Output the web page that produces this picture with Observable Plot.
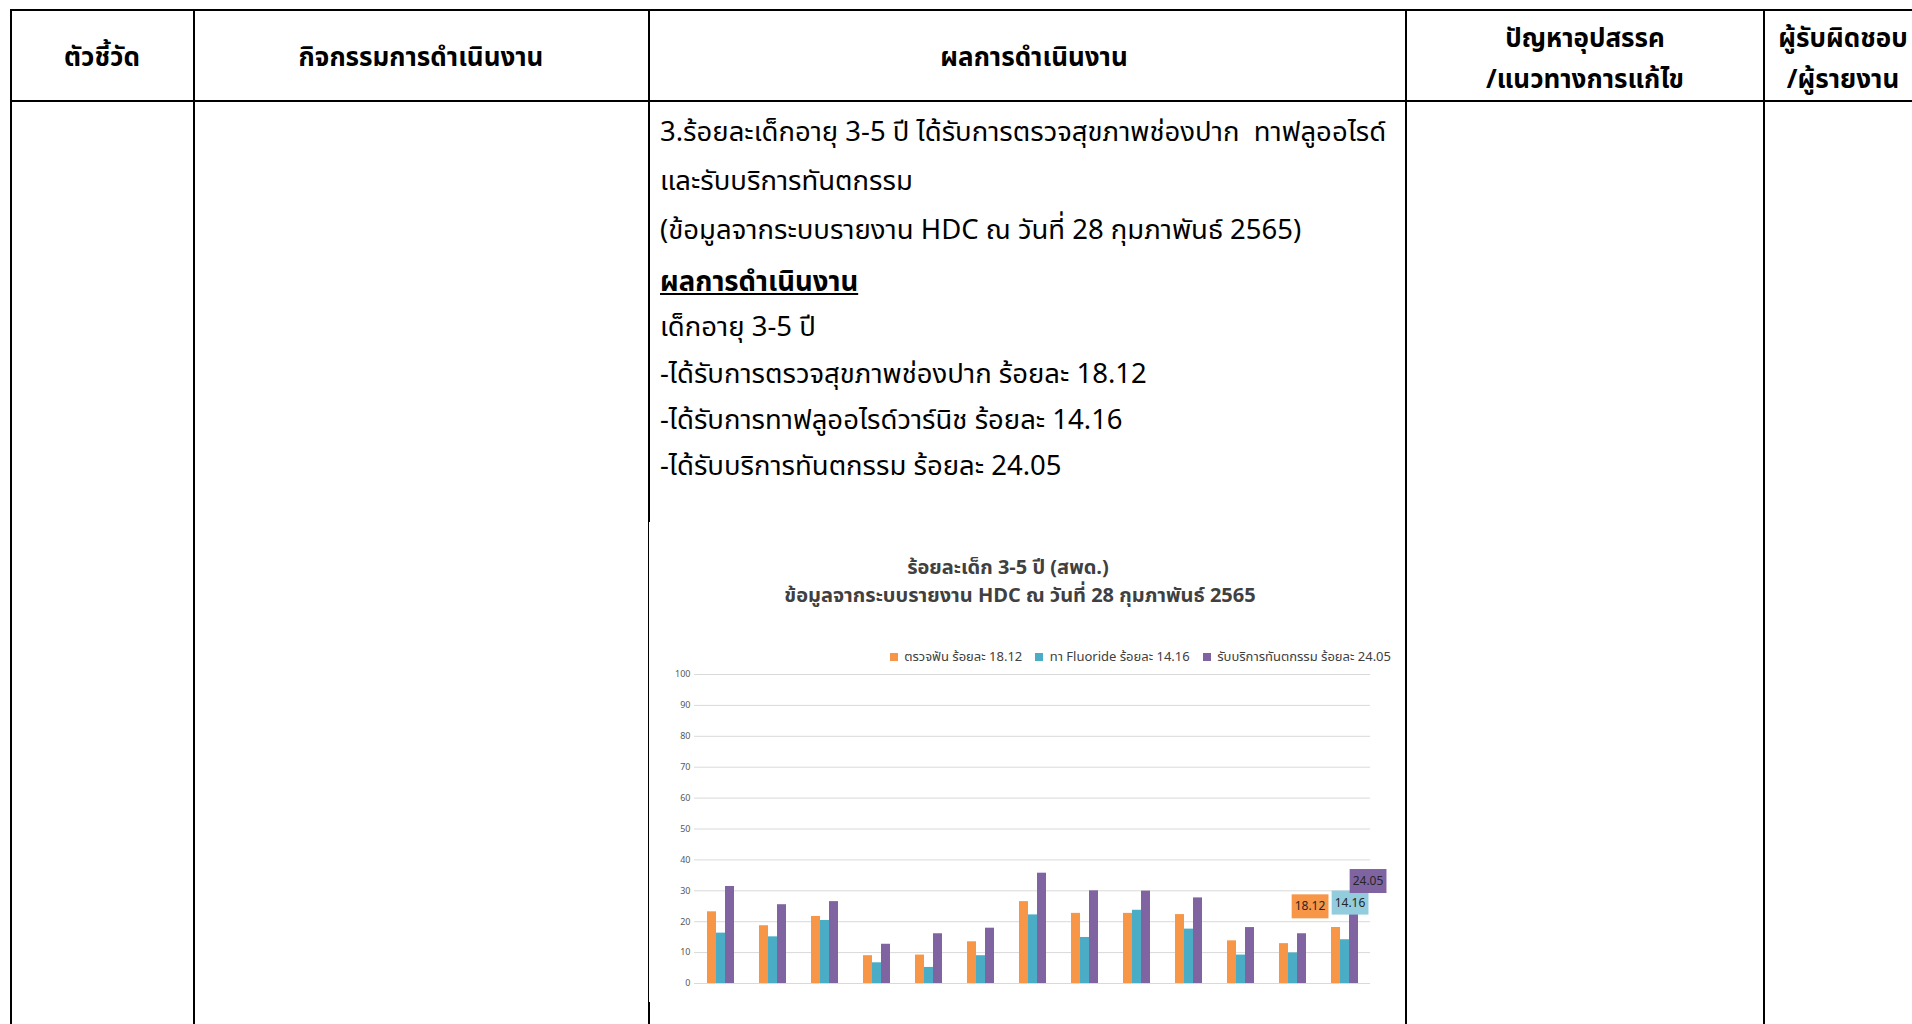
<!DOCTYPE html>
<html><head><meta charset="utf-8">
<script src="https://cdn.jsdelivr.net/npm/d3@7"></script>
<script src="https://cdn.jsdelivr.net/npm/@observablehq/plot@0.6"></script>
<style>
html,body{margin:0;padding:0;background:#fff;}
body{width:1912px;height:1024px;position:relative;overflow:hidden;font-family:"Noto Sans Thai","Leelawadee UI",Tahoma,"Noto Sans",sans-serif;color:#000;}
.ln{position:absolute;background:#000;}
.h{position:absolute;font-weight:bold;font-size:26px;text-align:center;white-space:nowrap;line-height:36px;transform:translateX(-50%);}
.t{position:absolute;left:660px;font-size:27.5px;white-space:pre;line-height:40px;}
.ct{position:absolute;font-weight:bold;font-size:20px;color:#404040;white-space:nowrap;transform:translateX(-50%);line-height:26px;}
#legend{position:absolute;right:508px;top:640px;}
#chart{position:absolute;left:648px;top:664px;}
</style></head><body>
<div id="page"></div>
<div id="legend"></div>
<div id="chart"></div>
<script>
// ---- data ----
const categories = ["กลุ่ม 1","กลุ่ม 2","กลุ่ม 3","กลุ่ม 4","กลุ่ม 5","กลุ่ม 6","กลุ่ม 7","กลุ่ม 8","กลุ่ม 9","กลุ่ม 10","กลุ่ม 11","กลุ่ม 12","รวม"];
const seriesNames = ["ตรวจฟัน ร้อยละ 18.12", "ทา Fluoride ร้อยละ 14.16", "รับบริการทันตกรรม ร้อยละ 24.05"];
const checkup  = [23.2, 18.7, 21.7, 9.0, 9.2, 13.5, 26.5, 22.7, 22.7, 22.3, 13.8, 12.9, 18.12];
const fluoride = [16.3, 15.1, 20.4, 6.7, 5.2, 9.0, 22.2, 14.9, 23.7, 17.6, 9.2, 9.9, 14.16];
const dental   = [31.4, 25.5, 26.5, 12.7, 16.1, 17.9, 35.7, 30.0, 29.9, 27.7, 18.1, 16.1, 24.05];
const yTicks = [0, 10, 20, 30, 40, 50, 60, 70, 80, 90, 100];
const chartTitle = ["ร้อยละเด็ก 3-5 ปี (สพด.)", "ข้อมูลจากระบบรายงาน HDC ณ วันที่ 28 กุมภาพันธ์ 2565"];
const headers = [["ตัวชี้วัด"], ["กิจกรรมการดำเนินงาน"], ["ผลการดำเนินงาน"], ["ปัญหาอุปสรรค", "/แนวทางการแก้ไข"], ["ผู้รับผิดชอบ", "/ผู้รายงาน"]];
const bodyLines = [
  "3.ร้อยละเด็กอายุ 3-5 ปี ได้รับการตรวจสุขภาพช่องปาก  ทาฟลูออไรด์",
  "และรับบริการทันตกรรม",
  "(ข้อมูลจากระบบรายงาน HDC ณ วันที่ 28 กุมภาพันธ์ 2565)",
  "ผลการดำเนินงาน",
  "เด็กอายุ 3-5 ปี",
  "-ได้รับการตรวจสุขภาพช่องปาก ร้อยละ 18.12",
  "-ได้รับการทาฟลูออไรด์วาร์นิช ร้อยละ 14.16",
  "-ได้รับบริการทันตกรรม ร้อยละ 24.05"
];

// ---- page layout (table) ----
const page = document.getElementById("page");
function add(cls, style, text) {
  const d = document.createElement("div");
  d.className = cls; d.style.cssText = style;
  if (text != null) d.textContent = text;
  page.appendChild(d); return d;
}
add("ln", "left:10px;top:9px;width:1902px;height:2px;");
add("ln", "left:10px;top:100px;width:1902px;height:2px;");
[10, 193, 1405, 1763].forEach(x => add("ln", `left:${x}px;top:9px;width:2px;height:1015px;`));
add("ln", "left:648px;top:9px;width:2px;height:513px;");
add("ln", "left:648px;top:522px;width:1px;height:480px;");
add("ln", "left:648px;top:1002px;width:2px;height:22px;");

const colCenters = [102, 421, 1034, 1585, 1843];
headers.forEach((lines, i) => {
  if (lines.length === 1) add("h", `left:${colCenters[i]}px;top:40px;`, lines[0]);
  else lines.forEach((s, k) => add("h", `left:${colCenters[i]}px;top:${21 + k * 41}px;`, s));
});
const lineCenters = [134, 183, 232, 284, 329, 376, 422, 468];
bodyLines.forEach((s, i) => {
  const d = add("t", `top:${lineCenters[i] - 21}px;`, s);
  if (i === 3) { d.style.fontWeight = "bold"; d.style.textDecoration = "underline"; }
});
add("ct", "left:1008px;top:555px;", chartTitle[0]);
add("ct", "left:1020px;top:583px;", chartTitle[1]);

// ---- chart ----
const colors = ["#F79646", "#4BACC6", "#8064A2"];
const boxColors = ["#F79646", "#93CDDD", "#8064A2"];
const seriesValues = [checkup, fluoride, dental];
const rows = categories.flatMap((c, i) => seriesNames.map((s, j) => ({cat: c, series: s, j, value: seriesValues[j][i]})));
const last = categories[categories.length - 1];
const labelRows = rows.filter(d => d.cat === last);
const labelOffsets = [[-26, -21], [5, -37], [14, -28]];

const legend = Plot.legend({
  color: {type: "ordinal", domain: seriesNames, range: colors},
  swatchSize: 8,
  style: {fontSize: "13px", color: "#404040", fontFamily: "inherit"}
});
document.getElementById("legend").appendChild(legend);

const chart = Plot.plot({
  width: 757, height: 339,
  marginLeft: 46, marginRight: 35, marginTop: 10, marginBottom: 20,
  style: {fontSize: "9px", color: "#595959", fontFamily: "\"Noto Sans Thai\", Tahoma, \"Noto Sans\", sans-serif", background: "transparent"},
  fx: {domain: categories, padding: 0, axis: null, label: null},
  x: {domain: seriesNames, paddingInner: 0, paddingOuter: 1.29, axis: null, label: null},
  y: {domain: [0, 100], ticks: yTicks, tickSize: 0, tickPadding: 4, label: null},
  color: {domain: seriesNames, range: colors},
  marks: [
    Plot.ruleY(yTicks, {stroke: "#d9d9d9", strokeWidth: 1}),
    Plot.barY(rows, {fx: "cat", x: "series", y: "value", fill: "series"}),
    ...labelOffsets.map((o, j) => Plot.text(labelRows.filter(d => d.j === j), {
      fx: "cat", x: "series", y: "value", text: d => d.value.toFixed(2),
      dx: o[0], dy: o[1], fontSize: 12, fill: "#262626"
    }))
  ]
});
document.getElementById("chart").appendChild(chart);

// background boxes behind the data labels
const labelColor = new Map(labelRows.map(d => [d.value.toFixed(2), boxColors[d.j]]));
chart.querySelectorAll('g[aria-label="text"] text').forEach(t => {
  const c = labelColor.get(t.textContent);
  if (!c) return;
  const b = t.getBBox();
  const r = document.createElementNS("http://www.w3.org/2000/svg", "rect");
  r.setAttribute("x", b.x - 3);
  r.setAttribute("y", b.y - 3);
  r.setAttribute("width", b.width + 6);
  r.setAttribute("height", b.height + 6);
  const tr = t.getAttribute("transform");
  if (tr) r.setAttribute("transform", tr);
  r.setAttribute("fill", c);
  t.parentNode.insertBefore(r, t);
});
</script>
</body></html>
